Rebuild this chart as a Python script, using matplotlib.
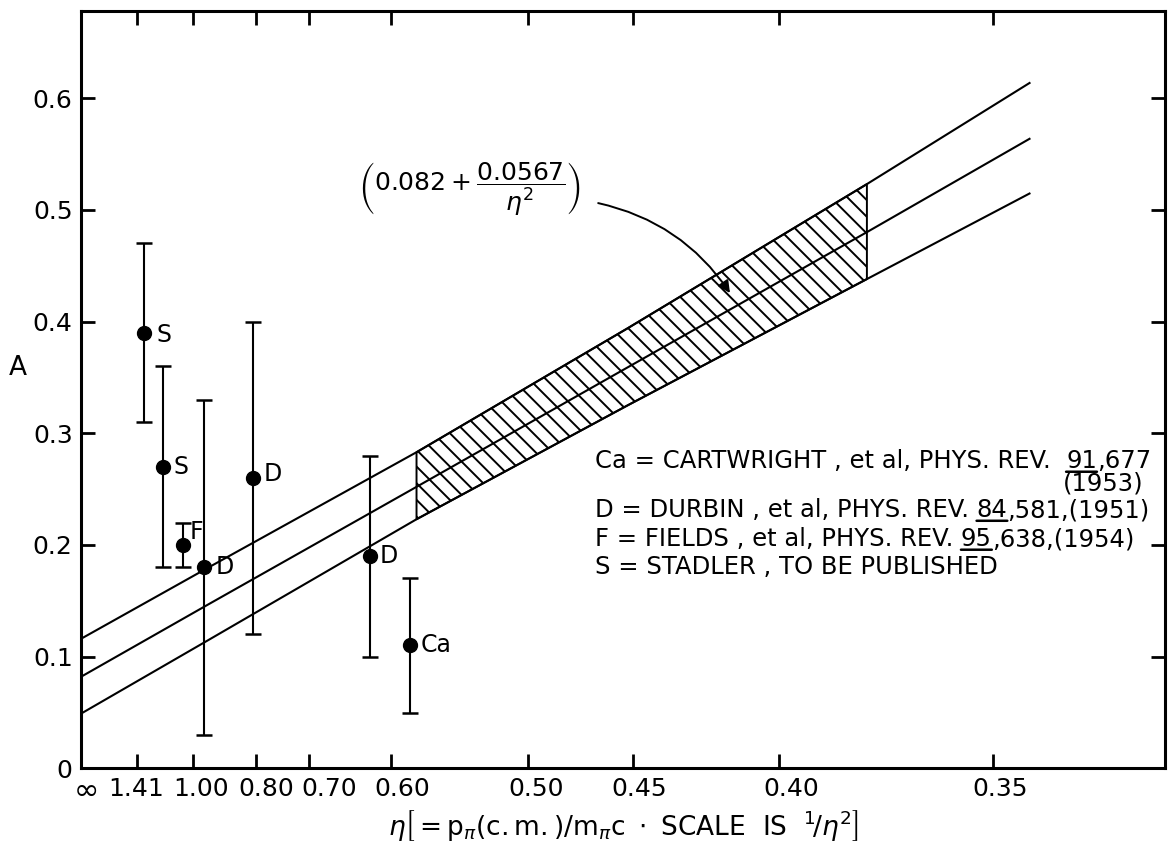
import numpy as np
import matplotlib
matplotlib.use("Agg")
import matplotlib.pyplot as plt
import matplotlib.transforms as mtransforms

# eta = p_pi(c.m.)/m_pi c ; the horizontal axis is linear in 1/eta^2
tick_eta = [np.inf, 1.41, 1.00, 0.80, 0.70, 0.60, 0.50, 0.45, 0.40, 0.35]
tick_text = ["∞", "1.41", "1.00", "0.80", "0.70", "0.60", "0.50", "0.45", "0.40", "0.35"]
y_ticks = [0, 0.1, 0.2, 0.3, 0.4, 0.5, 0.6]
y_tick_text = ["0", "0.1", "0.2", "0.3", "0.4", "0.5", "0.6"]

# measured points with error bars
point_eta = [1.332, 1.170, 1.048, 0.952, 0.807, 0.622, 0.583]
point_A = [0.39, 0.27, 0.20, 0.18, 0.26, 0.19, 0.11]
point_lo = [0.31, 0.18, 0.18, 0.03, 0.12, 0.10, 0.05]
point_hi = [0.47, 0.36, 0.22, 0.33, 0.40, 0.28, 0.17]
point_src = ["S", "S", "F", "D", "D", "D", "Ca"]

# fitted line 0.082 + 0.0567/eta^2 and its error band
band_eta = [np.inf, 0.95, 0.577, 0.452, 0.377, 0.343]
band_mid = [0.082, 0.145, 0.252, 0.359, 0.480, 0.564]
band_up = [0.116, 0.178, 0.283, 0.394, 0.523, 0.614]
band_low = [0.049, 0.113, 0.223, 0.325, 0.438, 0.515]
hatch_eta = (0.577, 0.377)

legend_lines = [
    [("Ca = CARTWRIGHT , et al, PHYS. REV.  ", False), ("91", True), (",677", False)],
    [("D = DURBIN , et al, PHYS. REV. ", False), ("84", True), (",581,(1951)", False)],
    [("F = FIELDS , et al, PHYS. REV. ", False), ("95", True), (",638,(1954)", False)],
    [("S = STADLER , TO BE PUBLISHED", False)],
]


def inv2(eta):
    return 1.0 / np.asarray(eta, dtype=float) ** 2


plt.rcParams['font.family'] = ['DejaVu Sans']
plt.rcParams['mathtext.fontset'] = 'dejavusans'
plt.rcParams['hatch.linewidth'] = 1.4

fig = plt.figure(figsize=(11.71, 8.48), dpi=100)
ax = fig.add_axes([0.0692, 0.0939, 0.9257, 0.8932])

# band lines
bx = inv2(band_eta)
for ys in (band_up, band_mid, band_low):
    ax.plot(bx, ys, color='black', lw=1.5, solid_capstyle='butt')

# hatched part of the band
sel = (bx >= inv2(hatch_eta[0]) - 1e-9) & (bx <= inv2(hatch_eta[1]) + 1e-9)
ax.fill_between(bx[sel], np.array(band_low)[sel], np.array(band_up)[sel],
                facecolor='none', edgecolor='black', hatch='\\\\', lw=1.4)

# data points
px = inv2(point_eta)
A = np.array(point_A)
yerr = [A - np.array(point_lo), np.array(point_hi) - A]
ax.errorbar(px, A, yerr=yerr, fmt='o', color='black', ms=10,
            elinewidth=1.5, capsize=6, capthick=1.8)

label_off = [(9, -2), (8, 0), (5, 9), (8, 0), (8, 3), (7, 0), (8, 0)]
for x, y, s, off in zip(px, A, point_src, label_off):
    ax.annotate(s, (x, y), xytext=off, textcoords='offset points',
                ha='left', va='center', fontsize=17)

# formula and curved arrow
ax.text(3.48, 0.518, r"$\left(0.082+\dfrac{0.0567}{\eta^{2}}\right)$",
        ha='center', va='center', fontsize=18)
ax.annotate('', xy=(5.81, 0.4255), xytext=(4.63, 0.506),
            arrowprops=dict(arrowstyle='-|>', connectionstyle='arc3,rad=-0.2',
                            color='black', lw=1.4, mutation_scale=18,
                            shrinkA=0, shrinkB=0))


# reference list, with underlined volume numbers
def write_parts(x, y, parts, size=17.5):
    prev = None
    for s, ul in parts:
        if prev is None:
            t = ax.text(x, y, s, ha='left', va='baseline', fontsize=size)
        else:
            t = ax.annotate(s, xy=(1, 0), xycoords=prev, ha='left', va='bottom',
                            fontsize=size)
        if ul:
            ax.annotate('', xy=(0, 0.07), xycoords=t, xytext=(1, 0.07), textcoords=t,
                        arrowprops=dict(arrowstyle='-', lw=1.8, color='black',
                                        shrinkA=0, shrinkB=0))
        prev = t


legend_y = [0.2685, 0.2246, 0.1987, 0.174]
for yy, parts in zip(legend_y, legend_lines):
    write_parts(4.60, yy, parts)
ax.text(9.51, 0.249, "(1953)", ha='right', va='baseline', fontsize=17.5)

# axes
ax.set_xlim(0, 9.705)
ax.set_ylim(0, 0.678)
ax.set_xticks(inv2(tick_eta))
ax.set_xticklabels(tick_text)
ax.set_yticks(y_ticks)
ax.set_yticklabels(y_tick_text)
ax.tick_params(direction='in', length=10, width=2, top=True, right=True,
               labelsize=18, pad=6)
for sp in ax.spines.values():
    sp.set_linewidth(2.2)

label_dx_px = [5, -1, 8, 11, 20, 11, 8, 7, 12, 7]
xlabels = ax.get_xticklabels()
for lab, dx in zip(xlabels, label_dx_px):
    lab.set_transform(lab.get_transform() +
                      mtransforms.ScaledTranslation(dx / 100, 0, fig.dpi_scale_trans))
xlabels[0].set_fontsize(22)

ax.set_ylabel("A", rotation=0, fontsize=19, va='center', ha='center')
ax.yaxis.set_label_coords(-0.058, 0.529)
ax.set_xlabel(r"$\eta\left[=\mathrm{p}_{\pi}\mathrm{(c.m.)/m}_{\pi}\mathrm{c}\ \cdot\ "
              r"\mathrm{SCALE\ \ IS}\ \ {}^{1}\!/\eta^{2}\right]$",
              fontsize=19, va='center')
ax.xaxis.set_label_coords(0.5, -0.075)

fig.savefig("out.png", dpi=100)
